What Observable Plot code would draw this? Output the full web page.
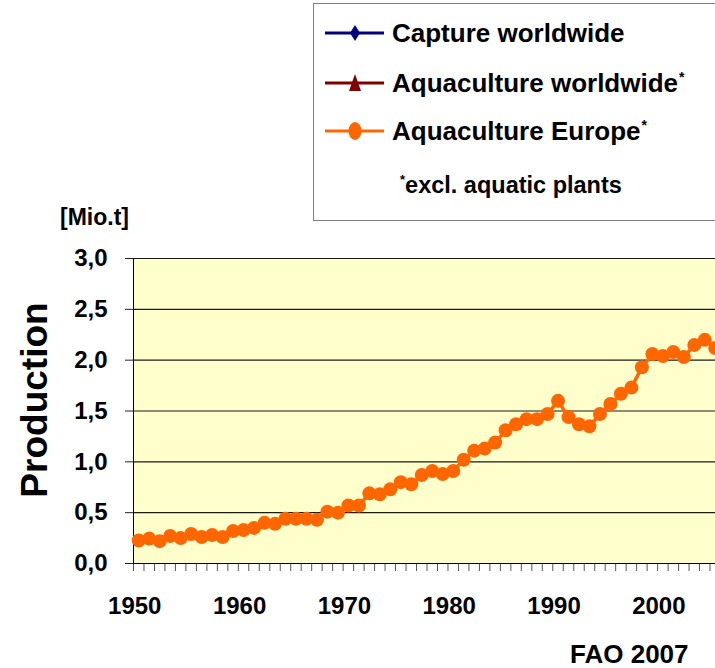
<!DOCTYPE html>
<html>
<head>
<meta charset="utf-8">
<script src="https://cdn.jsdelivr.net/npm/d3@7"></script>
<script src="https://cdn.jsdelivr.net/npm/@observablehq/plot@0.6"></script>
<style>
  html, body { margin: 0; padding: 0; background: #fff; overflow: hidden; }
  #page { position: relative; width: 715px; height: 668px; overflow: hidden; font-family: "Liberation Sans", Arial, sans-serif; font-weight: bold; color: #000; }
  #chart { position: absolute; left: 0; top: 0; width: 730px; height: 668px; }
  #chart svg { max-width: none !important; width: 730px !important; height: 668px !important; }
  #legend { position: absolute; left: 313px; top: 3px; width: 430px; height: 218px; border: 1.5px solid #808080; background: #fff; box-sizing: border-box; }
  .lrow { position: absolute; left: 78px; font-size: 26px; line-height: 26px; white-space: nowrap; }
  .lrow sup { font-size: 14px; vertical-align: 0; position: relative; top: -10px; margin-left: 1px; }
  .swatch { position: absolute; left: 10px; }
  #note { position: absolute; left: 86px; font-size: 23.5px; line-height: 24px; white-space: nowrap; }
  #note sup { font-size: 13px; position: relative; top: -9px; vertical-align: 0; }
  #anno { position: absolute; left: 0; top: 0; }
</style>
</head>
<body>
<div id="page">
  <div id="chart"></div>
  <svg id="anno" width="715" height="668"></svg>
  <div id="legend"></div>
</div>
<script>
// ---- data ----
const years = [1950,1951,1952,1953,1954,1955,1956,1957,1958,1959,
               1960,1961,1962,1963,1964,1965,1966,1967,1968,1969,
               1970,1971,1972,1973,1974,1975,1976,1977,1978,1979,
               1980,1981,1982,1983,1984,1985,1986,1987,1988,1989,
               1990,1991,1992,1993,1994,1995,1996,1997,1998,1999,
               2000,2001,2002,2003,2004,2005];
const aquacultureEurope = [0.226,0.245,0.22,0.27,0.25,0.29,0.26,0.28,0.26,0.32,
                           0.33,0.35,0.40,0.39,0.44,0.44,0.44,0.43,0.51,0.50,
                           0.57,0.57,0.69,0.68,0.73,0.80,0.78,0.87,0.91,0.88,
                           0.91,1.02,1.11,1.13,1.19,1.31,1.37,1.42,1.42,1.47,
                           1.60,1.44,1.37,1.35,1.47,1.57,1.67,1.73,1.93,2.06,
                           2.04,2.08,2.03,2.15,2.20,2.12];
const yTicks = [0, 0.5, 1.0, 1.5, 2.0, 2.5, 3.0];
const xLabelYears = [1950, 1960, 1970, 1980, 1990, 2000];
const seriesNames = ["Capture worldwide", "Aquaculture worldwide", "Aquaculture Europe"];
const seriesColors = ["#000080", "#800000", "#FF6600"];
const seriesStars = [false, true, true];
const noteText = "excl. aquatic plants";
const yUnit = "[Mio.t]";
const yTitle = "Production";
const source = "FAO 2007";

const data = years.map((y, i) => ({year: y, value: aquacultureEurope[i]}));
const boundaries = years.map(y => y - 0.5).concat([years[years.length - 1] + 0.5]);
const fmt = d => d.toFixed(1).replace(".", ",");

const chart = Plot.plot({
  width: 730,
  height: 668,
  marginLeft: 133,
  marginRight: 10,
  marginTop: 258,
  marginBottom: 105,
  style: {fontFamily: "'Liberation Sans', Arial, sans-serif", fontWeight: "bold", fontSize: "24px", color: "#000", background: "transparent", overflow: "visible", maxWidth: "none"},
  x: {domain: [boundaries[0], boundaries[boundaries.length - 1]]},
  y: {domain: [0, 3]},
  marks: [
    Plot.frame({fill: "#FFFFCC", stroke: null}),
    Plot.gridY({ticks: yTicks, stroke: "#1a1a1a", strokeOpacity: 1, strokeWidth: 1.2}),
    Plot.axisY({ticks: yTicks, tickSize: 8, tickPadding: 18, tickFormat: fmt, label: null, fontSize: 24, stroke: "#222"}),
    Plot.axisX({ticks: boundaries, tickSize: 8, tickFormat: () => "", label: null, stroke: "#555"}),
    Plot.axisX({ticks: xLabelYears, tickSize: 0, tickPadding: 33, dx: -4, tickFormat: d => String(d), label: null, fontSize: 24}),
    Plot.ruleX([boundaries[0]], {stroke: "#000", strokeWidth: 1}),
    Plot.ruleY([0], {stroke: "#000", strokeWidth: 1}),
    Plot.line(data, {x: "year", y: "value", stroke: "#FF6600", strokeWidth: 3.5}),
    Plot.dot(data, {x: "year", y: "value", r: 7, fill: "#FF6600", stroke: null})
  ]
});
document.getElementById("chart").appendChild(chart);

// ---- annotations ----
const anno = d3.select("#anno");
anno.append("text").attr("x", 60).attr("y", 225).attr("font-size", 23).attr("font-weight", "bold")
  .attr("font-family", "'Liberation Sans', Arial, sans-serif").text(yUnit);
anno.append("text").attr("transform", "translate(47,400) rotate(-90)").attr("text-anchor", "middle")
  .attr("font-size", 37).attr("font-weight", "bold").attr("font-family", "'Liberation Sans', Arial, sans-serif").text(yTitle);
anno.append("text").attr("x", 570).attr("y", 663).attr("font-size", 26).attr("font-weight", "bold")
  .attr("font-family", "'Liberation Sans', Arial, sans-serif").text(source);

// ---- legend ----
const legend = d3.select("#legend");
const rowCenters = [29, 79, 127];
seriesNames.forEach((name, i) => {
  const cy = rowCenters[i];
  const sw = legend.append("svg").attr("class", "swatch").attr("width", 62).attr("height", 24)
    .style("top", (cy - 12) + "px");
  sw.append("line").attr("x1", 1).attr("x2", 60).attr("y1", 12).attr("y2", 12)
    .attr("stroke", seriesColors[i]).attr("stroke-width", 3);
  if (i === 0) {
    sw.append("path").attr("d", "M31,4 L36,12 L31,20 L26,12 Z").attr("fill", seriesColors[i]);
  } else if (i === 1) {
    sw.append("path").attr("d", "M31,3 L37,20 L25,20 Z").attr("fill", seriesColors[i]);
  } else {
    sw.append("ellipse").attr("cx", 31).attr("cy", 12).attr("rx", 6.5).attr("ry", 9).attr("fill", seriesColors[i]);
  }
  const row = legend.append("div").attr("class", "lrow").style("top", (cy - 13) + "px").text(name);
  if (seriesStars[i]) row.append("sup").text("*");
});
const note = legend.append("div").attr("id", "note").style("top", (184 - 3 - 12) + "px");
note.append("sup").text("*");
note.append("span").text(noteText);
</script>
</body>
</html>
